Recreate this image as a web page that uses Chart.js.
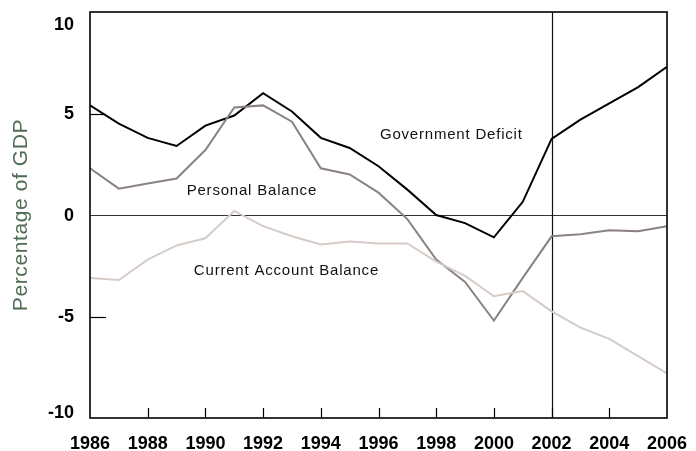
<!DOCTYPE html>
<html>
<head>
<meta charset="utf-8">
<script src="https://cdn.jsdelivr.net/npm/chart.js@4/dist/chart.umd.min.js"></script>
<style>
  html, body { margin: 0; padding: 0; background: #fff; }
  canvas { display: block; }
</style>
</head>
<body>
<canvas id="grafico" width="696" height="451"></canvas>
<script>
var anos = [1986, 1987, 1988, 1989, 1990, 1991, 1992, 1993, 1994, 1995, 1996,
            1997, 1998, 1999, 2000, 2001, 2002, 2003, 2004, 2005, 2006];

var governmentDeficit = [5.4, 4.5, 3.8, 3.4, 4.4, 4.9, 6.0, 5.1, 3.8, 3.3, 2.4,
                         1.25, 0.0, -0.4, -1.1, 0.65, 3.75, 4.7, 5.5, 6.3, 7.3];
var personalBalance = [2.3, 1.3, 1.55, 1.8, 3.2, 5.3, 5.4, 4.6, 2.3, 2.0, 1.1,
                       -0.2, -2.2, -3.3, -5.2, -3.1, -1.05, -0.95, -0.75, -0.8, -0.55];
var currentAccount = [-3.1, -3.2, -2.2, -1.5, -1.15, 0.2, -0.55, -1.05, -1.45, -1.3, -1.4,
                      -1.4, -2.3, -3.0, -4.0, -3.75, -4.75, -5.55, -6.1, -6.95, -7.8];

var ticksX = [1986, 1988, 1990, 1992, 1994, 1996, 1998, 2000, 2002, 2004, 2006];
var ticksY = [10, 5, 0, -5, -10];
var anoProjecao = 2002;

var rotulos = [
  { texto: 'Government Deficit', ano: 1996.05, valor: 3.95 },
  { texto: 'Personal Balance', ano: 1989.35, valor: 1.2 },
  { texto: 'Current Account Balance', ano: 1989.6, valor: -2.75 }
];

var fonteEixos = 'bold 18px "Liberation Sans Narrow", "Arial Narrow", sans-serif';

function pontos(valores) {
  return anos.map(function(ano, i) {
    return { x: ano, y: valores[i] };
  });
}

var decoracao = {
  id: 'decoracao',
  beforeDatasetsDraw: function(chart) {
    var ctx = chart.ctx;
    var area = chart.chartArea;
    var sx = chart.scales.x;
    var sy = chart.scales.y;
    ctx.save();

    // linha do zero
    ctx.strokeStyle = '#333';
    ctx.lineWidth = 1.2;
    var y0 = Math.round(sy.getPixelForValue(0)) + 0.5;
    ctx.beginPath();
    ctx.moveTo(area.left, y0);
    ctx.lineTo(area.right, y0);
    ctx.stroke();

    // linha vertical de 2002
    ctx.strokeStyle = '#111';
    var xp = Math.round(sx.getPixelForValue(anoProjecao)) + 0.5;
    ctx.beginPath();
    ctx.moveTo(xp, area.top);
    ctx.lineTo(xp, area.bottom);
    ctx.stroke();

    ctx.restore();
  },
  afterDraw: function(chart) {
    var ctx = chart.ctx;
    var area = chart.chartArea;
    var sx = chart.scales.x;
    var sy = chart.scales.y;
    ctx.save();

    // moldura
    ctx.strokeStyle = '#000';
    ctx.lineWidth = 1.6;
    ctx.strokeRect(area.left, area.top, area.right - area.left, area.bottom - area.top);

    // marcas internas
    ctx.lineWidth = 1.2;
    ticksX.forEach(function(t) {
      if (t === ticksX[0] || t === ticksX[ticksX.length - 1]) return;
      var x = Math.round(sx.getPixelForValue(t)) + 0.5;
      ctx.beginPath();
      ctx.moveTo(x, area.bottom);
      ctx.lineTo(x, area.bottom - 10);
      ctx.stroke();
    });
    ticksY.forEach(function(t) {
      if (t === 0 || t === ticksY[0] || t === ticksY[ticksY.length - 1]) return;
      var y = Math.round(sy.getPixelForValue(t)) + 0.5;
      ctx.beginPath();
      ctx.moveTo(area.left, y);
      ctx.lineTo(area.left + 16, y);
      ctx.stroke();
    });

    // rotulos dos eixos
    ctx.fillStyle = '#000';
    ctx.font = fonteEixos;
    ctx.textAlign = 'center';
    ctx.textBaseline = 'middle';
    ticksX.forEach(function(t) {
      ctx.fillText(String(t), sx.getPixelForValue(t), area.bottom + 26);
    });
    ctx.textAlign = 'right';
    ticksY.forEach(function(t) {
      var y = sy.getPixelForValue(t);
      y = Math.min(Math.max(y, area.top + 12), area.bottom - 6);
      ctx.fillText(String(t), area.left - 16, y + 1);
    });

    // titulo do eixo y
    ctx.save();
    ctx.translate(21, (area.top + area.bottom) / 2);
    ctx.rotate(-Math.PI / 2);
    ctx.fillStyle = '#4f6d53';
    ctx.font = '21px "Liberation Sans", Arial, sans-serif';
    ctx.letterSpacing = '0.6px';
    ctx.textAlign = 'center';
    ctx.textBaseline = 'middle';
    ctx.fillText('Percentage of GDP', 0, 0);
    ctx.restore();

    // nomes das series
    ctx.fillStyle = '#111';
    ctx.font = '15px "Liberation Sans", Arial, sans-serif';
    ctx.letterSpacing = '0.8px';
    ctx.textAlign = 'left';
    ctx.textBaseline = 'middle';
    rotulos.forEach(function(r) {
      ctx.fillText(r.texto, sx.getPixelForValue(r.ano), sy.getPixelForValue(r.valor));
    });

    ctx.restore();
  }
};

function desenhaGrafico() {
  var ctxChart = document.getElementById('grafico').getContext('2d');
  new Chart(ctxChart, {
    type: 'line',
    data: {
      datasets: [{
        label: 'Current Account Balance',
        data: pontos(currentAccount),
        borderColor: '#d5ccc8',
        borderWidth: 2
      }, {
        label: 'Personal Balance',
        data: pontos(personalBalance),
        borderColor: '#8b8380',
        borderWidth: 2
      }, {
        label: 'Government Deficit',
        data: pontos(governmentDeficit),
        borderColor: '#000',
        borderWidth: 2
      }]
    },
    options: {
      responsive: false,
      animation: false,
      devicePixelRatio: 1,
      layout: { padding: { top: 12, right: 29, left: 0, bottom: 0 } },
      elements: { point: { radius: 0 }, line: { tension: 0 } },
      plugins: { legend: { display: false }, tooltip: { enabled: false } },
      scales: {
        x: {
          type: 'linear', min: 1986, max: 2006,
          grid: { display: false }, border: { display: false },
          ticks: { display: false },
          afterFit: function(scale) { scale.height = 33; }
        },
        y: {
          min: -10, max: 10,
          grid: { display: false }, border: { display: false },
          ticks: { display: false },
          afterFit: function(scale) { scale.width = 90; }
        }
      }
    },
    plugins: [decoracao]
  });
}

desenhaGrafico();
</script>
</body>
</html>
